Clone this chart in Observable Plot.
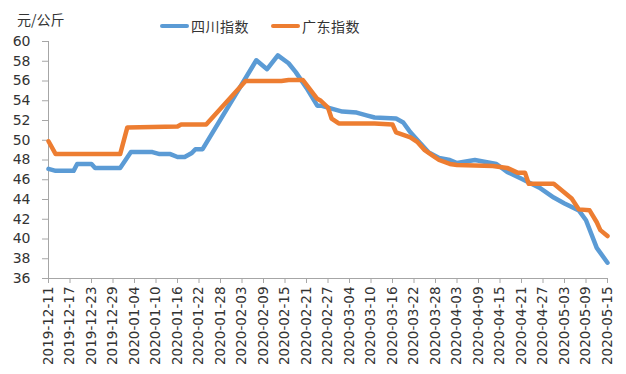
<!DOCTYPE html>
<html><head><meta charset="utf-8">
<script src="https://cdn.jsdelivr.net/npm/d3@7"></script>
<script src="https://cdn.jsdelivr.net/npm/@observablehq/plot@0.6"></script>
<style>
body{margin:0;background:#fff;}
#wrap{position:relative;width:626px;height:374px;font-family:"Noto Sans CJK SC",sans-serif;color:#333;}
#chart{position:absolute;left:0;top:0;}
.unit{position:absolute;left:17px;top:9px;font-size:14px;line-height:20px;}
.sw{position:absolute;top:24px;width:29px;height:4px;border-radius:2px;}
.lt{position:absolute;top:16px;font-size:14px;line-height:20px;letter-spacing:0.5px;}
</style></head>
<body>
<div id="wrap">
  <div id="chart"></div>
  <div class="unit">元/公斤</div>
  <div class="sw" style="left:160px;background:#5B9BD5"></div>
  <div class="lt" style="left:191px">四川指数</div>
  <div class="sw" style="left:271px;background:#ED7D31"></div>
  <div class="lt" style="left:302px">广东指数</div>
</div>
<script>
const seriesNames = ["四川指数", "广东指数"];
const seriesColors = ["#5B9BD5", "#ED7D31"];

const sichuanDates = ["2019-12-11","2019-12-13","2019-12-18","2019-12-19","2019-12-23","2019-12-24","2019-12-31","2020-01-03","2020-01-09","2020-01-11","2020-01-14","2020-01-16","2020-01-18","2020-01-20","2020-01-21","2020-01-23","2020-02-07","2020-02-10","2020-02-13","2020-02-16","2020-02-18","2020-02-21","2020-02-24","2020-02-25","2020-02-28","2020-03-02","2020-03-06","2020-03-09","2020-03-11","2020-03-17","2020-03-19","2020-03-21","2020-03-23","2020-03-26","2020-03-29","2020-04-01","2020-04-03","2020-04-08","2020-04-14","2020-04-17","2020-04-21","2020-04-26","2020-04-30","2020-05-03","2020-05-07","2020-05-09","2020-05-12","2020-05-15"];
const sichuanValues = [47.1,46.9,46.9,47.6,47.6,47.2,47.2,48.8,48.8,48.6,48.6,48.3,48.3,48.7,49.1,49.1,58.1,57.2,58.6,57.8,56.9,55.3,53.5,53.5,53.2,52.9,52.8,52.5,52.3,52.2,51.8,50.8,50.0,48.8,48.2,48.0,47.7,48.0,47.6,46.8,46.1,45.2,44.2,43.6,42.9,41.9,39.1,37.6];

const guangdongDates = ["2019-12-11","2019-12-13","2019-12-31","2020-01-02","2020-01-16","2020-01-17","2020-01-24","2020-02-04","2020-02-14","2020-02-16","2020-02-20","2020-02-24","2020-02-25","2020-02-27","2020-02-28","2020-03-01","2020-03-11","2020-03-16","2020-03-17","2020-03-21","2020-03-23","2020-03-25","2020-03-27","2020-03-29","2020-04-01","2020-04-03","2020-04-13","2020-04-17","2020-04-20","2020-04-22","2020-04-23","2020-04-30","2020-05-05","2020-05-07","2020-05-10","2020-05-12","2020-05-13","2020-05-15"];
const guangdongValues = [49.9,48.6,48.6,51.3,51.4,51.6,51.6,56.0,56.0,56.1,56.1,54.2,54.0,53.3,52.2,51.7,51.7,51.6,50.8,50.3,49.8,49.0,48.5,48.0,47.6,47.5,47.4,47.2,46.7,46.7,45.6,45.6,44.1,43.0,42.9,41.7,40.9,40.3];

const xTickLabels = ["2019-12-11","2019-12-17","2019-12-23","2019-12-29","2020-01-04","2020-01-10","2020-01-16","2020-01-22","2020-01-28","2020-02-03","2020-02-09","2020-02-15","2020-02-21","2020-02-27","2020-03-04","2020-03-10","2020-03-16","2020-03-22","2020-03-28","2020-04-03","2020-04-09","2020-04-15","2020-04-21","2020-04-27","2020-05-03","2020-05-09","2020-05-15"];
const yTicks = [36,38,40,42,44,46,48,50,52,54,56,58,60];

const parse = d3.utcParse("%Y-%m-%d");
const fmt = d3.utcFormat("%Y-%m-%d");
const sichuan = sichuanDates.map((d,i)=>({date:parse(d), value:sichuanValues[i]}));
const guangdong = guangdongDates.map((d,i)=>({date:parse(d), value:guangdongValues[i]}));
const xTicks = xTickLabels.map(parse);
const x0 = xTicks[0], x1 = xTicks[xTicks.length-1];

const chart = Plot.plot({
  width: 626, height: 374,
  marginLeft: 48, marginRight: 19, marginTop: 41, marginBottom: 96,
  x: {type: "utc", domain: [x0, x1]},
  y: {domain: [36, 60]},
  style: {fontFamily: "DejaVu Sans", fontSize: "13px", background: "#fff"},
  marks: [
    Plot.axisY({ticks: yTicks, tickSize: 6, tickPadding: 12, stroke: "#a6a6a6", fill: "#333", label: null, fontSize: 14}),
    Plot.axisX({ticks: xTicks, tickFormat: fmt, tickRotate: -90, tickSize: 5, tickPadding: 3, stroke: "#a6a6a6", fill: "#333", label: null, fontSize: 13.5}),
    Plot.ruleY([36], {stroke: "#a6a6a6"}),
    Plot.ruleX([x0], {stroke: "#a6a6a6"}),
    Plot.lineY(sichuan, {x: "date", y: "value", stroke: seriesColors[0], strokeWidth: 4.5, strokeLinejoin: "round", strokeLinecap: "round"}),
    Plot.lineY(guangdong, {x: "date", y: "value", stroke: seriesColors[1], strokeWidth: 4.5, strokeLinejoin: "round", strokeLinecap: "round"})
  ]
});
document.getElementById("chart").appendChild(chart);
</script>
</body></html>
